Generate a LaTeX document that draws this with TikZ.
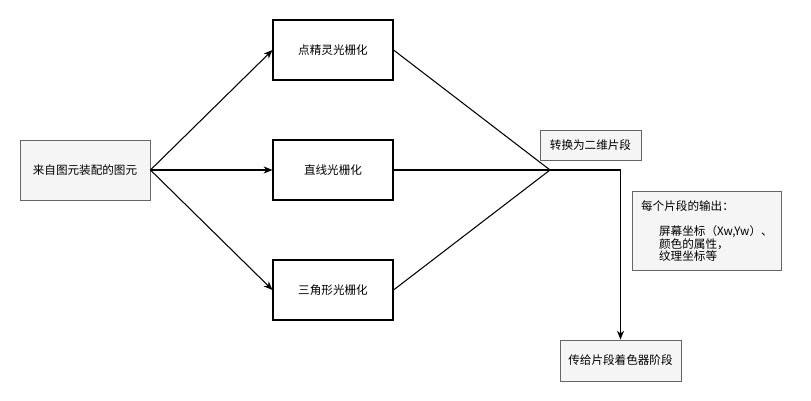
\documentclass[tikz,border=0pt]{standalone}
\usepackage{fontspec}
\setmainfont{Noto Sans CJK SC}
\usepackage{tikz}
\usetikzlibrary{arrows.meta, positioning}

\begin{document}
\begin{tikzpicture}[
  x=0.02cm, y=-0.02cm,
  font=\fontsize{6.6}{7.2}\selectfont,
  stage/.style  = {rectangle, draw=black, fill=white, line width=0.6pt,
                   minimum width=2.4cm, minimum height=1.2cm, align=center},
  grey/.style   = {rectangle, draw=black!60, fill=black!4, line width=0.5pt,
                   align=center},
  arrow/.style  = {-{Stealth[length=5pt, width=4pt, inset=1.5pt]}, line width=0.6pt},
  link/.style   = {line width=0.6pt},
]
  \useasboundingbox (0,0) rectangle (811,401);

  % input and the three rasterizers
  \node[grey, minimum width=2.6cm, minimum height=1.2cm] (src) at (85,170) {来自图元装配的图元};
  \node[stage] (point) at (333,50)  {点精灵光栅化};
  \node[stage] (line)  at (333,170) {直线光栅化};
  \node[stage] (tri)   at (333,290) {三角形光栅化};

  \draw[arrow] (src.east) -- (point.west);
  \draw[arrow] (src.east) -- (line.west);
  \draw[arrow] (src.east) -- (tri.west);

  % merge into fragments
  \coordinate (merge) at (550,170);
  \node[grey, minimum width=2.02cm, minimum height=0.6cm] (conv) at (590.5,145) {转换为二维片段};

  \draw[link] (point.east) -- (merge);
  \draw[link] (line.east)  -- (merge);
  \draw[link] (tri.east)   -- (merge);

  \node[grey, minimum width=2.42cm, minimum height=0.82cm] (shade) at (620.5,360.5) {传给片段着色器阶段};
  \draw[arrow] (merge) -| (shade.north);

  % note
  \node[grey, anchor=north west, minimum width=2.98cm, minimum height=1.58cm,
        align=left, inner sep=3pt] (note) at (632,191)
       {每个片段的输出：\\[7.2pt]
        \hspace{0.36cm}屏幕坐标（Xw,Yw）、\\
        \hspace{0.36cm}颜色的属性，\\
        \hspace{0.36cm}纹理坐标等};
\end{tikzpicture}
\end{document}
